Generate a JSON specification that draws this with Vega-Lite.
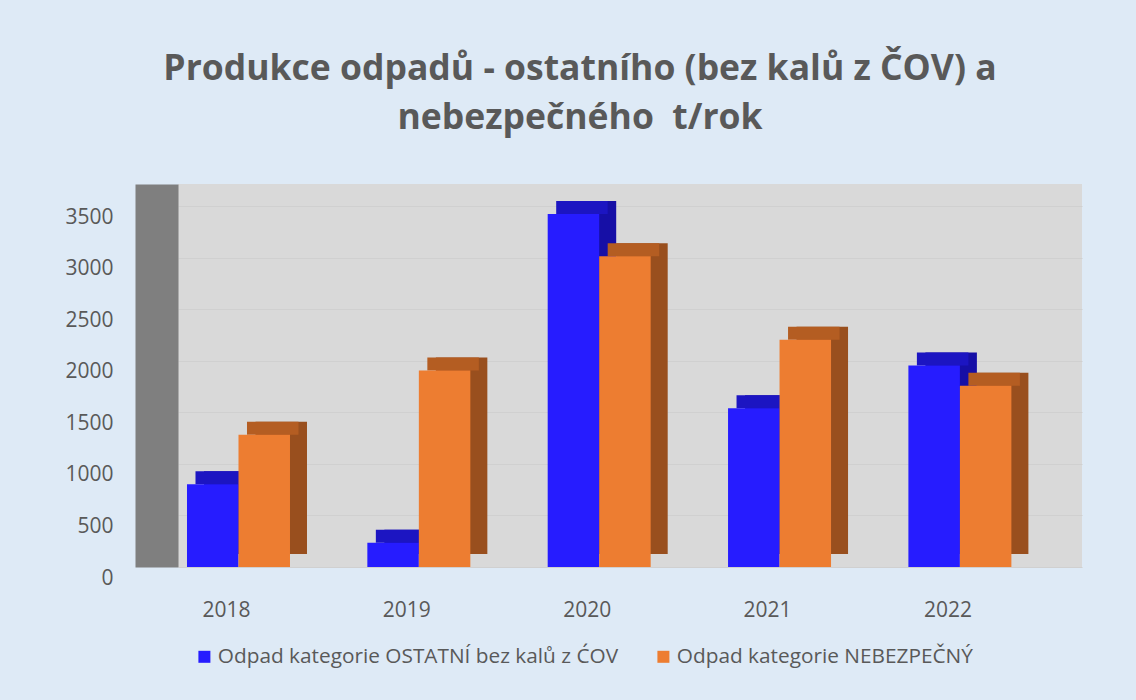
{
  "$schema": "https://vega.github.io/schema/vega-lite/v6.json",
  "width": 904,
  "height": 383,
  "autosize": {"type": "none"},
  "padding": {"left": 178, "top": 184, "right": 54, "bottom": 133},
  "background": "#DEEAF6",
  "config": {
    "view": {"fill": "#D9D9D9", "stroke": null},
    "font": "Open Sans"
  },
  "title": {
    "text": ["Produkce odpadů - ostatního (bez kalů z ČOV) a", "nebezpečného\u00a0 t/rok"],
    "font": "Open Sans",
    "fontSize": 35.5,
    "fontWeight": "bold",
    "color": "#595959",
    "lineHeight": 49,
    "anchor": "middle",
    "dx": -50,
    "dy": -44,
    "offset": 4
  },
  "data": {
    "values": [
      {"year": "2018", "series": "Odpad kategorie OSTATNÍ bez kalů z ĆOV", "value": 803},
      {"year": "2018", "series": "Odpad kategorie NEBEZPEČNÝ", "value": 1282},
      {"year": "2019", "series": "Odpad kategorie OSTATNÍ bez kalů z ĆOV", "value": 236},
      {"year": "2019", "series": "Odpad kategorie NEBEZPEČNÝ", "value": 1906},
      {"year": "2020", "series": "Odpad kategorie OSTATNÍ bez kalů z ĆOV", "value": 3424},
      {"year": "2020", "series": "Odpad kategorie NEBEZPEČNÝ", "value": 3013},
      {"year": "2021", "series": "Odpad kategorie OSTATNÍ bez kalů z ĆOV", "value": 1541},
      {"year": "2021", "series": "Odpad kategorie NEBEZPEČNÝ", "value": 2204},
      {"year": "2022", "series": "Odpad kategorie OSTATNÍ bez kalů z ĆOV", "value": 1954},
      {"year": "2022", "series": "Odpad kategorie NEBEZPEČNÝ", "value": 1757}
    ]
  },
  "encoding": {
    "x": {
      "field": "year",
      "type": "nominal",
      "scale": {"domain": ["2018", "2019", "2020", "2021", "2022"], "paddingInner": 0.4289, "paddingOuter": 0.2207, "align": 0.113},
      "axis": {
        "title": null,
        "labelAngle": 0,
        "domain": false,
        "ticks": false,
        "labelOffset": -12,
        "labelPadding": 32,
        "labelFont": "Open Sans",
        "labelFontSize": 21,
        "labelColor": "#595959",
        "grid": false
      }
    },
    "y": {
      "field": "value",
      "type": "quantitative",
      "scale": {"domain": [0, 3715], "nice": false, "zero": true},
      "axis": {
        "title": null,
        "values": [0, 500, 1000, 1500, 2000, 2500, 3000, 3500],
        "format": "d",
        "offset": 21.5,
        "domain": true,
        "domainWidth": 43,
        "domainColor": "#7F7F7F",
        "domainCap": "butt",
        "ticks": false,
        "labelPadding": 43.5,
        "labelOffset": 11,
        "labelFont": "Open Sans",
        "labelFontSize": 21,
        "labelColor": "#595959",
        "grid": true,
        "gridColor": "#D0D0D0",
        "gridWidth": 1
      }
    }
  },
  "layer": [
    {
      "mark": {"type": "bar", "yOffset": -13, "y2Offset": -13},
      "encoding": {
        "xOffset": {"field": "series", "type": "nominal", "sort": null, "scale": {"domain": ["Odpad kategorie OSTATNÍ bez kalů z ĆOV", "Odpad kategorie NEBEZPEČNÝ"], "range": [17, 120], "paddingInner": 0, "paddingOuter": 0}},
        "color": {"field": "series", "type": "nominal", "legend": null, "scale": {"domain": ["Odpad kategorie OSTATNÍ bez kalů z ĆOV", "Odpad kategorie NEBEZPEČNÝ"], "range": ["#160FA6", "#994F1E"]}}
      }
    },
    {
      "mark": {"type": "bar", "yOffset": -13, "y2Offset": 0},
      "encoding": {
        "y2": {"field": "value"},
        "xOffset": {"field": "series", "type": "nominal", "sort": null, "scale": {"domain": ["Odpad kategorie OSTATNÍ bez kalů z ĆOV", "Odpad kategorie NEBEZPEČNÝ"], "range": [8.5, 111.5], "paddingInner": 0, "paddingOuter": 0}},
        "color": {"field": "series", "type": "nominal", "legend": null, "scale": {"domain": ["Odpad kategorie OSTATNÍ bez kalů z ĆOV", "Odpad kategorie NEBEZPEČNÝ"], "range": ["#1C15C2", "#B45D22"]}}
      }
    },
    {
      "mark": {"type": "bar"},
      "encoding": {
        "xOffset": {"field": "series", "type": "nominal", "sort": null, "scale": {"domain": ["Odpad kategorie OSTATNÍ bez kalů z ĆOV", "Odpad kategorie NEBEZPEČNÝ"], "paddingInner": 0, "paddingOuter": 0}},
        "color": {
          "field": "series",
          "type": "nominal",
          "scale": {"domain": ["Odpad kategorie OSTATNÍ bez kalů z ĆOV", "Odpad kategorie NEBEZPEČNÝ"], "range": ["#261CFF", "#ED7D31"]},
          "legend": {
            "title": null,
            "orient": "none",
            "legendX": 16,
            "legendY": 462,
            "direction": "horizontal",
            "symbolType": "square",
            "symbolSize": 144,
            "symbolStrokeWidth": 0,
            "labelFont": "Open Sans",
            "labelFontSize": 20.8,
            "labelColor": "#595959",
            "labelLimit": 600,
            "labelOffset": 3,
            "columnPadding": 34
          }
        }
      }
    }
  ],
  "resolve": {"scale": {"xOffset": "independent", "color": "independent"}}
}
